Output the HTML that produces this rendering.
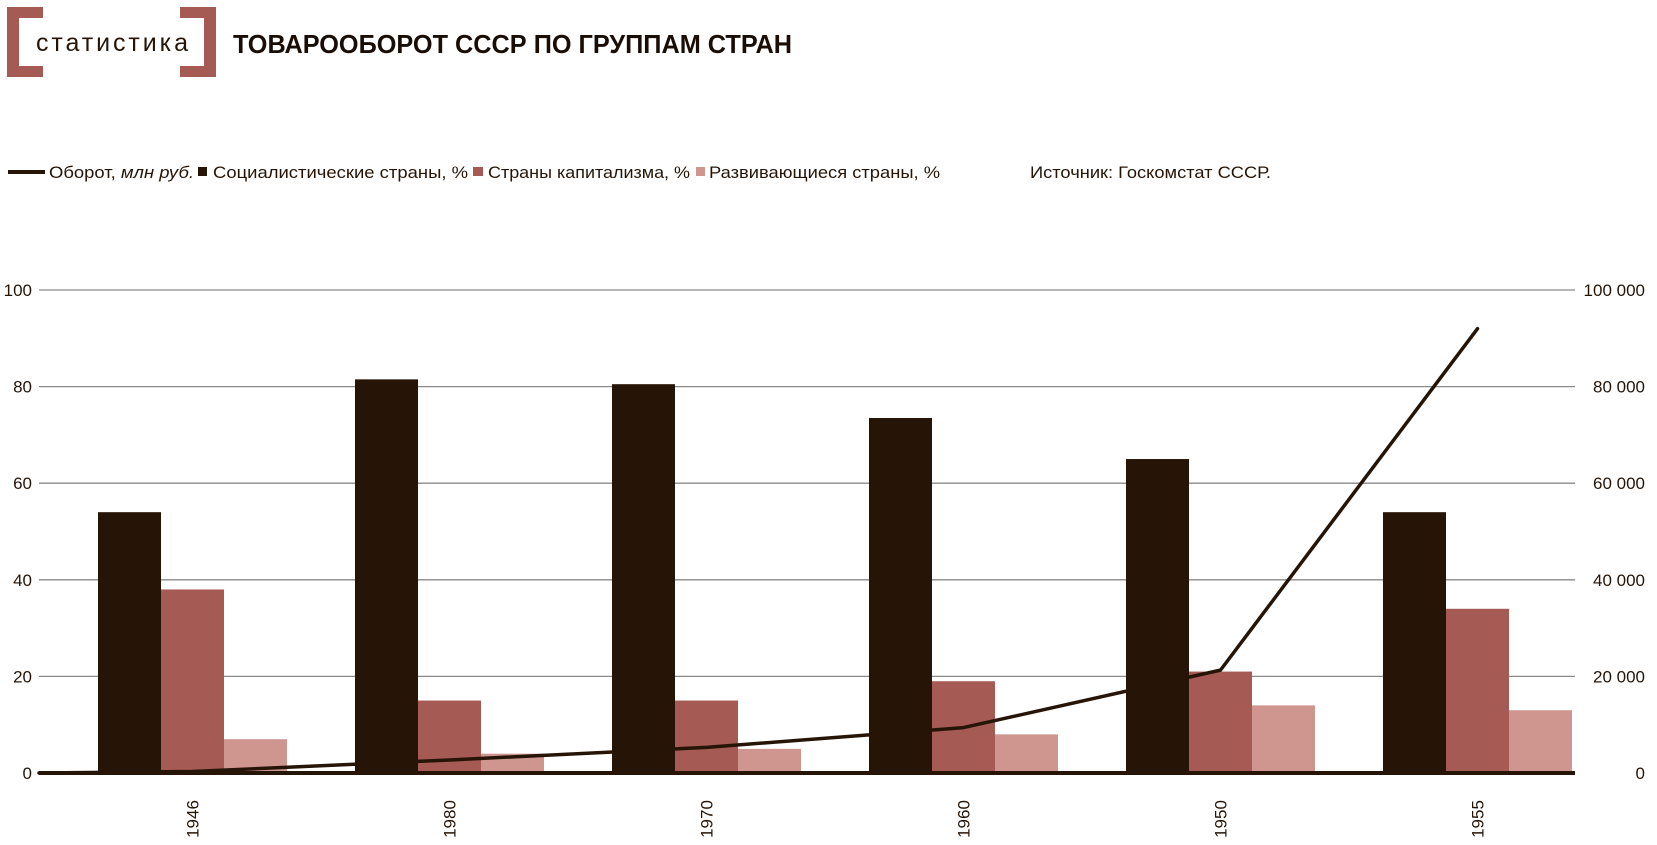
<!DOCTYPE html>
<html><head><meta charset="utf-8"><style>
html,body{margin:0;padding:0;background:#fff;}
svg{display:block;font-family:"Liberation Sans","DejaVu Sans",sans-serif;}
</style></head><body>
<svg id="chart" width="1657" height="845" viewBox="0 0 1657 845">
  <g>
    <path d="M7 7H43V18H19V66H43V77H7Z" fill="#a55a53"/>
    <path d="M216 7H180V18H204V66H180V77H216Z" fill="#a55a53"/>
    <text x="36" y="51" font-size="25" fill="#261507" textLength="152" lengthAdjust="spacing">статистика</text>
  </g>
  <text x="233" y="53" font-size="26" font-weight="bold" fill="#1a0d05" textLength="559" lengthAdjust="spacingAndGlyphs">ТОВАРООБОРОТ СССР ПО ГРУППАМ СТРАН</text>

  <g font-size="17" fill="#261507">
    <g>
      <rect x="8" y="170" width="37" height="4" fill="#261507"/>
      <text x="49" y="178" textLength="145" lengthAdjust="spacingAndGlyphs">Оборот, <tspan font-style="italic">млн руб.</tspan></text>
    </g>
    <g>
      <rect x="198" y="167" width="9" height="9" fill="#261507"/>
      <text x="213" y="178" textLength="255" lengthAdjust="spacingAndGlyphs">Социалистические страны, %</text>
    </g>
    <g>
      <rect x="473" y="167" width="10" height="9" fill="#a55a53"/>
      <text x="488" y="178" textLength="202" lengthAdjust="spacingAndGlyphs">Страны капитализма, %</text>
    </g>
    <g>
      <rect x="696" y="167" width="9" height="9" fill="#cf9690"/>
      <text x="709" y="178" textLength="231" lengthAdjust="spacingAndGlyphs">Развивающиеся страны, %</text>
    </g>
    <text x="1030" y="178" textLength="241" lengthAdjust="spacingAndGlyphs">Источник: Госкомстат СССР.</text>
  </g>
  <g id="grid"></g>
  <g id="bars"></g>
  <g id="line"></g>
  <g id="labels"></g>
</svg>
<script>
const categories = ["1946","1980","1970","1960","1950","1955"];
const socialist = [54, 81.5, 80.5, 73.5, 65, 54];
const capitalist = [38, 15, 15, 19, 21, 34];
const developing = [7, 4, 5, 8, 14, 13];
const turnover = [300, 2700, 5300, 9400, 21300, 92000];
const leftTicks = [0, 20, 40, 60, 80, 100];
const rightTicks = ["0","20 000","40 000","60 000","80 000","100 000"];

const NS = "http://www.w3.org/2000/svg";
const x0 = 39, x1 = 1581, yBase = 773, yTop = 290;
const band = (x1 - x0) / categories.length;
const barW = 63, barOff = 59;
function yL(v){ return yBase - (v / 100) * (yBase - yTop); }
function yR(v){ return yBase - (v / 100000) * (yBase - yTop); }
function bandX(i){ return x0 + i * band; }
function mk(tag, attrs, parent){
  const e = document.createElementNS(NS, tag);
  for (const k in attrs) e.setAttribute(k, attrs[k]);
  parent.appendChild(e);
  return e;
}
const grid = document.getElementById('grid');
const bars = document.getElementById('bars');
const lineG = document.getElementById('line');
const labels = document.getElementById('labels');

leftTicks.forEach((t, i) => {
  const y = yL(t);
  if (t > 0) {
    const g = mk('line', {x1: x0, x2: x1 - 6, y1: y, y2: y, stroke: '#8a8a8a', 'stroke-width': 1.3}, grid);
    
    
  }
  const tl = mk('text', {x: 32, y: y + 6, 'font-size': 17, fill: '#261507', 'text-anchor': 'end'}, labels);
  tl.textContent = t;
  
  
  const tr = mk('text', {x: 1645, y: y + 6, 'font-size': 17, fill: '#261507', 'text-anchor': 'end'}, labels);
  tr.textContent = rightTicks[i];
  
  
});

const series = [[socialist, '#261507', 'socialist'], [capitalist, '#a55a53', 'capitalist'], [developing, '#cf9690', 'developing']];
categories.forEach((c, i) => {
  series.forEach((s, j) => {
    const v = s[0][i];
    const r = mk('rect', {x: bandX(i) + barOff + j * barW, y: yL(v), width: barW, height: yBase - yL(v), fill: s[1]}, bars);
    
    
  });
  const cx = bandX(i) + barOff + 1.5 * barW + 6;
  const lt = mk('text', {x: 0, y: 0, 'font-size': 17, fill: '#261507', 'text-anchor': 'middle', transform: 'translate(' + cx + ',819) rotate(-90)'}, labels);
  lt.textContent = c;
  
  
});

const axis = mk('line', {x1: x0, x2: x1 - 6, y1: yBase, y2: yBase, stroke: '#261507', 'stroke-width': 4}, bars);



let pts = [[x0, yR(0)]];
turnover.forEach((v, i) => { pts.push([bandX(i) + barOff + 1.5 * barW, yR(v)]); });
const pl = mk('polyline', {points: pts.map(p => p.join(',')).join(' '), fill: 'none', stroke: '#261507', 'stroke-width': 3.5, 'stroke-linejoin': 'round', 'stroke-linecap': 'round'}, lineG);


</script>
</body></html>
